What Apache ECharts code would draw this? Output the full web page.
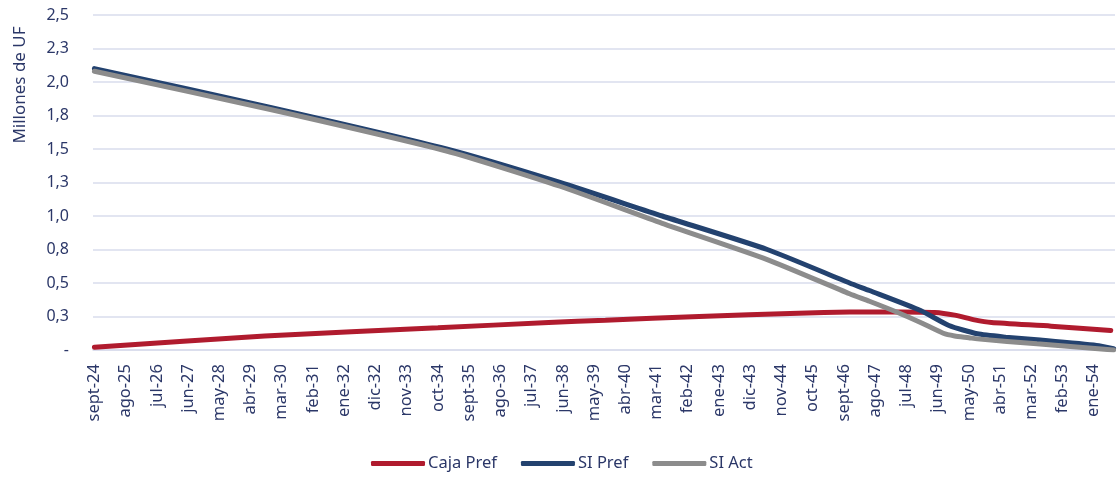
<!DOCTYPE html>
<html>
<head>
<meta charset="utf-8">
<script src="https://cdn.jsdelivr.net/npm/echarts@6/dist/echarts.min.js"></script>
<style>html,body{margin:0;padding:0;background:#fff}#c{width:1119px;height:479px}</style>
</head>
<body>
<div id="c"></div>
<script>
// Month names (Spanish) and category range: sept-24 .. ago-54 (360 months)
const monthNames = ['ene','feb','mar','abr','may','jun','jul','ago','sept','oct','nov','dic'];
const startMonth = 8, startYear = 24, monthCount = 360;
const categories = [];
for (let i = 0; i < monthCount; i++) {
  const m = (startMonth + i) % 12;
  const y = startYear + Math.floor((startMonth + i) / 12);
  categories.push(monthNames[m] + '-' + String(y).padStart(2, '0'));
}

// Y tick labels (0 .. 2.5 step 0.25)
const yTickLabels = ['-', '0,3', '0,5', '0,8', '1,0', '1,3', '1,5', '1,8', '2,0', '2,3', '2,5'];

// Series values: [month index, millones de UF]
const cajaPref = [[0,0.02],[60,0.105],[121,0.166],[160,0.205],[180,0.222],[213,0.25],[248,0.275],[266,0.283],[284,0.284],[296,0.28],[303,0.26],[310,0.225],[316,0.205],[337,0.178],[358,0.145]];
const siPref = [[0,2.10],[62,1.81],[124,1.50],[164,1.25],[200,1.00],[237,0.75],[266,0.50],[273,0.444],[291,0.295],[301,0.183],[311,0.121],[321,0.096],[332,0.076],[353,0.034],[359,0.01]];
const siAct = [[0,2.08],[62,1.795],[124,1.485],[164,1.222],[200,0.945],[237,0.675],[266,0.42],[273,0.364],[283,0.28],[291,0.205],[299,0.125],[303,0.105],[308,0.092],[311,0.083],[332,0.046],[359,0.0]];

const navy = '#2b3768';
const chart = echarts.init(document.getElementById('c'));
chart.setOption({
  animation: false,
  grid: { left: 93, right: 4, top: 15, bottom: 129 },
  xAxis: {
    type: 'category',
    data: categories,
    boundaryGap: true,
    axisLine: { show: true, lineStyle: { color: '#d9dcec', width: 1.5 } },
    axisTick: { show: false },
    axisLabel: { interval: 10, rotate: 90, color: navy, fontSize: 16.5, fontFamily: 'Noto Sans', margin: 14 }
  },
  yAxis: {
    type: 'value',
    min: 0, max: 2.5, interval: 0.25,
    axisLine: { show: false },
    axisTick: { show: false },
    splitLine: { lineStyle: { color: '#d9dcec', width: 1.5 } },
    axisLabel: {
      color: navy, fontSize: 16, fontFamily: 'Noto Sans', margin: 24,
      formatter: function (v) { return yTickLabels[Math.round(v / 0.25)]; }
    }
  },
  graphic: [{
    type: 'text',
    x: 20, y: 85,
    rotation: Math.PI / 2,
    style: { text: 'Millones de UF', fill: navy, font: '17px "Noto Sans"', align: 'center', verticalAlign: 'middle' }
  }],
  legend: {
    left: 366, bottom: 2,
    icon: 'roundRect',
    itemWidth: 54, itemHeight: 5, itemGap: 24,
    textStyle: { color: navy, fontSize: 16.5, fontFamily: 'Noto Sans', padding: [0, 0, 0, -2] },
    data: ['Caja Pref', 'SI Pref', 'SI Act']
  },
  series: [
    { name: 'Caja Pref', type: 'line', data: cajaPref, showSymbol: false, smooth: 0.2, lineStyle: { color: '#b01b2e', width: 5, cap: 'round' }, itemStyle: { color: '#b01b2e' } },
    { name: 'SI Pref', type: 'line', data: siPref, showSymbol: false, smooth: 0.2, lineStyle: { color: '#23426f', width: 5, cap: 'round' }, itemStyle: { color: '#23426f' } },
    { name: 'SI Act', type: 'line', data: siAct, showSymbol: false, smooth: 0.2, lineStyle: { color: '#8c8c8c', width: 5, cap: 'round' }, itemStyle: { color: '#8c8c8c' } }
  ]
});
</script>
</body>
</html>
